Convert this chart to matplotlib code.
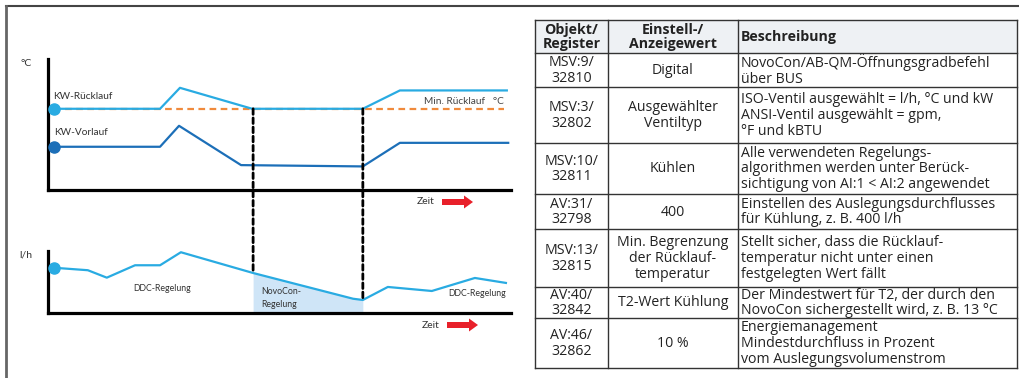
import matplotlib
matplotlib.use("Agg")
import matplotlib.pyplot as plt
from matplotlib.patches import ConnectionPatch, FancyArrow, Rectangle

# Temperature chart (time 0..100, temperature in arbitrary units 0..10)
t_ruecklauf = [1.3, 24.2, 28.5, 44.1, 68.0, 76.0, 99.1]
v_ruecklauf = [6.2, 6.2, 7.8, 6.2, 6.2, 7.6, 7.6]
t_vorlauf = [1.3, 24.2, 28.3, 41.7, 68.0, 76.0, 99.4]
v_vorlauf = [3.3, 3.3, 4.9, 1.9, 1.8, 3.6, 3.6]
min_ruecklauf = 6.2

# Flow chart (l/h in arbitrary units 0..10)
t_flow = [1.3, 8.6, 12.7, 18.8, 24.2, 28.7, 44.3, 65.9, 68.0, 73.4, 82.9, 92.2, 98.9]
v_flow = [7.3, 6.9, 5.7, 7.7, 7.7, 9.8, 6.45, 2.3, 2.1, 4.2, 3.55, 5.65, 4.85]

# NovoCon control window
novocon_start, novocon_end = 44.3, 68.0

# Parameter table
col_header = ["Objekt/\nRegister", "Einstell-/\nAnzeigewert", "Beschreibung"]
col_obj = ["MSV:9/\n32810", "MSV:3/\n32802", "MSV:10/\n32811", "AV:31/\n32798",
           "MSV:13/\n32815", "AV:40/\n32842", "AV:46/\n32862"]
col_val = ["Digital", "Ausgewählter\nVentiltyp", "Kühlen", "400",
           "Min. Begrenzung\nder Rücklauf-\ntemperatur", "T2-Wert Kühlung", "10 %"]
col_desc = ["NovoCon/AB-QM-Öffnungsgradbefehl\nüber BUS",
            "ISO-Ventil ausgewählt = l/h, °C und kW\nANSI-Ventil ausgewählt = gpm,\n°F und kBTU",
            "Alle verwendeten Regelungs-\nalgorithmen werden unter Berück-\nsichtigung von AI:1 < AI:2 angewendet",
            "Einstellen des Auslegungsdurchflusses\nfür Kühlung, z. B. 400 l/h",
            "Stellt sicher, dass die Rücklauf-\ntemperatur nicht unter einen\nfestgelegten Wert fällt",
            "Der Mindestwert für T2, der durch den\nNovoCon sichergestellt wird, z. B. 13 °C",
            "Energiemanagement\nMindestdurchfluss in Prozent\nvom Auslegungsvolumenstrom"]

LIGHT = "#29abe2"
DARK = "#1c6fb8"
ORANGE = "#f08a3c"
RED = "#e8202a"
W, H = 1019, 378

plt.rcParams["font.family"] = ["Lato", "DejaVu Sans"]
fig = plt.figure(figsize=(W / 100, H / 100), dpi=100)

# overlay in pixel units for frame, arrows and table
bg = fig.add_axes([0, 0, 1, 1])
bg.set_xlim(0, W)
bg.set_ylim(H, 0)
bg.axis("off")
bg.plot([6, W], [6, 6], color="#444444", lw=1.5)
bg.plot([6, 6], [6, H], color="#666666", lw=2)


def setup(ax, label):
    for s in ["top", "right"]:
        ax.spines[s].set_visible(False)
    for s in ["left", "bottom"]:
        ax.spines[s].set_linewidth(2.3)
        ax.spines[s].set_capstyle("projecting")
    ax.set_xticks([])
    ax.set_yticks([])
    ax.set_xlim(0, 100)
    ax.set_ylim(0, 10)
    ax.patch.set_alpha(0)
    ax.text(-0.035, 1.0, label, transform=ax.transAxes, fontsize=7.5,
            color="#333333", ha="right", va="top")


ax1 = fig.add_axes([48 / W, 1 - 190 / H, 463 / W, 131 / H])
setup(ax1, "°C")
ax1.plot([t_ruecklauf[0], 98.5], [min_ruecklauf, min_ruecklauf], color=ORANGE,
         lw=1.6, dashes=(3, 2), zorder=2)
ax1.plot(t_ruecklauf, v_ruecklauf, color=LIGHT, lw=1.6, zorder=3)
ax1.plot(t_vorlauf, v_vorlauf, color=DARK, lw=1.6, zorder=3)
ax1.plot(t_ruecklauf[0], v_ruecklauf[0], "o", color=LIGHT, ms=8, zorder=4, clip_on=False)
ax1.plot(t_vorlauf[0], v_vorlauf[0], "o", color=DARK, ms=8, zorder=4, clip_on=False)
ax1.annotate("KW-Rücklauf", (t_ruecklauf[0], v_ruecklauf[0]), xytext=(-1, 9),
             textcoords="offset points", fontsize=7.3, color="#333333", va="center")
ax1.annotate("KW-Vorlauf", (t_vorlauf[0], v_vorlauf[0]), xytext=(0, 10),
             textcoords="offset points", fontsize=7.3, color="#333333", va="center")
ax1.annotate("Min. Rücklauf   °C", (98.5, min_ruecklauf), xytext=(0, 5),
             textcoords="offset points", fontsize=7.3, color="#444444", ha="right", va="center")

ax2 = fig.add_axes([48 / W, 1 - 313 / H, 463 / W, 62 / H])
setup(ax2, "l/h")
seg = [(t, v) for t, v in zip(t_flow, v_flow) if novocon_start <= t <= novocon_end]
ax2.fill_between([p[0] for p in seg], [p[1] for p in seg], 0, color="#cfe5f7",
                 lw=0, zorder=1)
ax2.plot(t_flow, v_flow, color=LIGHT, lw=1.6, zorder=3, clip_on=False)
ax2.plot(t_flow[0], v_flow[0], "o", color=LIGHT, ms=8, zorder=4, clip_on=False)
ax2.text(24.6, 4.0, "DDC-Regelung", fontsize=6.3, color="#333333", ha="center", va="center")
ax2.text(46.0, 2.4, "NovoCon-\nRegelung", fontsize=6.3, color="#333333", ha="left",
         va="center", linespacing=1.5)
ax2.text(92.7, 3.2, "DDC-Regelung", fontsize=6.3, color="#333333", ha="center", va="center")

# dashed markers of the NovoCon window, running from the return line down to the flow line
flow_at = dict(zip(t_flow, v_flow))
for t in (novocon_start, novocon_end):
    con = ConnectionPatch((t, min_ruecklauf), (t, flow_at[t]), "data", "data",
                          axesA=ax1, axesB=ax2, color="black", lw=2.0,
                          linestyle=(0, (2.0, 1.3)), zorder=5)
    fig.add_artist(con)

# time arrows (pixel units of the overlay)
for x0, y0 in ((426, 202), (431, 325)):
    bg.text(x0, y0, "Zeit", fontsize=7.5, color="#333333", ha="center", va="center")
    bg.add_patch(FancyArrow(x0 + 16, y0, 31, 0, width=6, head_width=13, head_length=9,
                            length_includes_head=True, color=RED, lw=0))

# table
col_x = [535, 608, 738, 1017]
row_y = [20, 53, 87, 143, 194, 229, 287, 318, 368]
tfont = ["Open Sans", "DejaVu Sans"]
fs = 10.2
bg.add_patch(Rectangle((col_x[0], row_y[0]), col_x[-1] - col_x[0], row_y[1] - row_y[0],
                       facecolor="#eef1f4", edgecolor="none"))
for y in row_y:
    bg.plot([col_x[0], col_x[-1]], [y, y], color="#333333", lw=1.0)
for x in col_x:
    bg.plot([x, x], [row_y[0], row_y[-1]], color="#333333", lw=1.0)

for j, txt in enumerate(col_header):
    cy = (row_y[0] + row_y[1]) / 2 + 0.5
    if j < 2:
        bg.text((col_x[j] + col_x[j + 1]) / 2, cy, txt, ha="center", va="center",
                fontsize=fs, fontweight="bold", family=tfont, linespacing=1.0, color="#222222")
    else:
        bg.text(col_x[j] + 3, cy, txt, ha="left", va="center", fontsize=fs,
                fontweight="bold", family=tfont, color="#222222")

for i in range(len(col_obj)):
    cy = (row_y[i + 1] + row_y[i + 2]) / 2 + 0.5
    bg.text((col_x[0] + col_x[1]) / 2, cy, col_obj[i], ha="center", va="center",
            fontsize=fs, family=tfont, linespacing=1.07, color="#222222")
    bg.text((col_x[1] + col_x[2]) / 2, cy, col_val[i], ha="center", va="center",
            fontsize=fs, family=tfont, linespacing=1.07, color="#222222")
    bg.text(col_x[2] + 3, cy, col_desc[i], ha="left", va="center",
            fontsize=fs, family=tfont, linespacing=1.07, color="#222222")

fig.savefig("out.png", dpi=100)
